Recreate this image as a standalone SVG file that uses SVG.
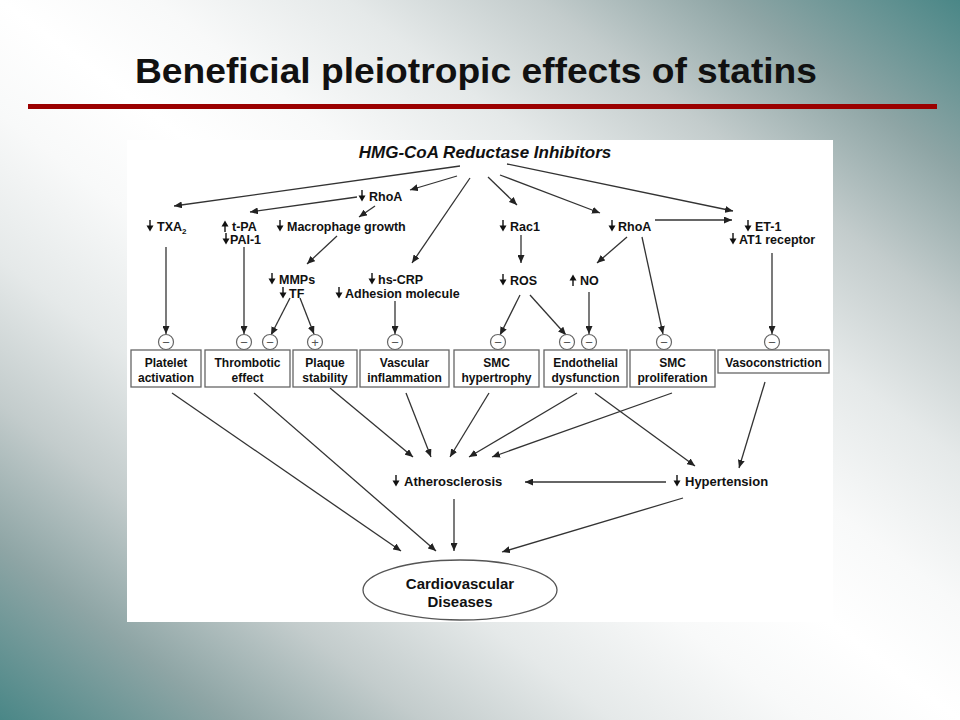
<svg xmlns="http://www.w3.org/2000/svg" xmlns:xlink="http://www.w3.org/1999/xlink" width="960" height="720" viewBox="0 0 960 720">
  <defs>
    <linearGradient id="bg" x1="0" y1="1" x2="1" y2="0">
      <stop offset="0" stop-color="#4a8787"/>
      <stop offset="0.12" stop-color="#8ea5a5"/>
      <stop offset="0.22" stop-color="#c3cccc"/>
      <stop offset="0.32" stop-color="#e5e9e9"/>
      <stop offset="0.42" stop-color="#f8f9f9"/>
      <stop offset="0.5" stop-color="#ffffff"/>
      <stop offset="0.58" stop-color="#f8f9f9"/>
      <stop offset="0.68" stop-color="#e5e9e9"/>
      <stop offset="0.78" stop-color="#c3cccc"/>
      <stop offset="0.88" stop-color="#8ea5a5"/>
      <stop offset="1" stop-color="#4a8787"/>
    </linearGradient>
    <marker id="ah" markerUnits="userSpaceOnUse" markerWidth="9" markerHeight="7" refX="8" refY="3.5" orient="auto">
      <path d="M0,0 L8,3.5 L0,7 Z" fill="#222"/>
    </marker>
    <g id="dn">
      <path d="M0,-6 V1" stroke="#111" stroke-width="1.4"/>
      <path d="M-3.5,-0.5 H3.5 L0,5.5 Z" fill="#111"/>
    </g>
    <g id="up">
      <path d="M0,6 V-1" stroke="#111" stroke-width="1.4"/>
      <path d="M-3.5,0.5 H3.5 L0,-5.5 Z" fill="#111"/>
    </g>
  </defs>
  <style>
    .t { font-family: "Liberation Sans", Arial, Helvetica, sans-serif; font-weight: bold; fill: #111; }
    .lbl { font-size: 12.5px; }
    .box { fill: #fff; stroke: #666; stroke-width: 1.3; }
    .bt { font-size: 12px; text-anchor: middle; }
    .c { stroke: #333; stroke-width: 1.3; fill: none; marker-end: url(#ah); }
    .sg { fill: #fff; stroke: #666; stroke-width: 1.2; }
    .sgt { font-family: "Liberation Sans", Arial, sans-serif; font-size: 13px; fill: #555; text-anchor: middle; }
  </style>

  <rect x="0" y="0" width="960" height="720" fill="url(#bg)"/>

  <g id="title">
    <text class="t" x="135" y="83" font-size="35" textLength="682" lengthAdjust="spacingAndGlyphs">Beneficial pleiotropic effects of statins</text>
    <rect x="28" y="104" width="909" height="5" fill="#9b0000"/>
  </g>

  <rect x="127" y="140" width="706" height="482" fill="#ffffff"/>

  <g id="connectors">
    <line class="c" x1="460" y1="166" x2="174" y2="206"/>
    <line class="c" x1="457" y1="176" x2="410" y2="190"/>
    <line class="c" x1="470" y1="178" x2="412" y2="263"/>
    <line class="c" x1="488" y1="177" x2="517" y2="205"/>
    <line class="c" x1="500" y1="175" x2="600" y2="213"/>
    <line class="c" x1="507" y1="164" x2="733" y2="211"/>
    <line class="c" x1="357" y1="197" x2="250" y2="212"/>
    <line class="c" x1="375" y1="206" x2="359" y2="217"/>
    <line class="c" x1="337" y1="236" x2="307" y2="264"/>
    <line class="c" x1="521" y1="235" x2="521" y2="263"/>
    <line class="c" x1="655" y1="220" x2="732" y2="220"/>
    <line class="c" x1="627" y1="237" x2="597" y2="263"/>
    <line class="c" x1="642" y1="237" x2="663" y2="334"/>
    <line class="c" x1="772" y1="253" x2="772" y2="334"/>
    <line class="c" x1="589" y1="292" x2="589" y2="334"/>
    <line class="c" x1="520" y1="295" x2="500" y2="335"/>
    <line class="c" x1="530" y1="295" x2="566" y2="335"/>
    <line class="c" x1="166" y1="247" x2="166" y2="334"/>
    <line class="c" x1="244" y1="247" x2="244" y2="334"/>
    <line class="c" x1="290" y1="298" x2="271" y2="335"/>
    <line class="c" x1="300" y1="298" x2="314" y2="334"/>
    <line class="c" x1="395" y1="301" x2="395" y2="334"/>
    <line class="c" x1="172" y1="393" x2="401" y2="551"/>
    <line class="c" x1="254" y1="393" x2="436" y2="551"/>
    <line class="c" x1="330" y1="388" x2="413" y2="457"/>
    <line class="c" x1="406" y1="393" x2="431" y2="457"/>
    <line class="c" x1="489" y1="393" x2="450" y2="457"/>
    <line class="c" x1="577" y1="393" x2="469" y2="457"/>
    <line class="c" x1="672" y1="393" x2="492" y2="457"/>
    <line class="c" x1="595" y1="393" x2="695" y2="466"/>
    <line class="c" x1="765" y1="382" x2="739" y2="468"/>
    <line class="c" x1="666" y1="482" x2="525" y2="482"/>
    <line class="c" x1="454" y1="499" x2="454" y2="551"/>
    <line class="c" x1="683" y1="498" x2="502" y2="552"/>
  </g>

  <g id="hmg">
    <text class="t" x="485" y="158" font-size="17" font-style="italic" text-anchor="middle">HMG-CoA Reductase Inhibitors</text>
  </g>

  <g id="rhoa-left">
    <use xlink:href="#dn" x="362" y="196"/>
    <text class="t lbl" x="369" y="200.5">RhoA</text>
  </g>
  <g id="txa2">
    <use xlink:href="#dn" x="150" y="226"/>
    <text class="t lbl" x="157" y="230.5">TXA<tspan font-size="8" dy="3">2</tspan></text>
  </g>
  <g id="tpa">
    <use xlink:href="#up" x="225" y="226"/>
    <text class="t lbl" x="232" y="230.5">t-PA</text>
    <use xlink:href="#dn" x="226" y="239"/>
    <text class="t lbl" x="230" y="243.5">PAI-1</text>
  </g>
  <g id="macrophage">
    <use xlink:href="#dn" x="280" y="226"/>
    <text class="t lbl" x="287" y="230.5">Macrophage growth</text>
  </g>
  <g id="mmps">
    <use xlink:href="#dn" x="272" y="279"/>
    <text class="t lbl" x="279" y="283.5">MMPs</text>
    <use xlink:href="#dn" x="283" y="293"/>
    <text class="t lbl" x="289" y="297.5">TF</text>
  </g>
  <g id="hscrp">
    <use xlink:href="#dn" x="372" y="279"/>
    <text class="t lbl" x="378" y="283.5">hs-CRP</text>
    <use xlink:href="#dn" x="339" y="293"/>
    <text class="t lbl" x="345" y="297.5">Adhesion molecule</text>
  </g>
  <g id="rac1">
    <use xlink:href="#dn" x="503" y="226"/>
    <text class="t lbl" x="510" y="230.5">Rac1</text>
  </g>
  <g id="ros">
    <use xlink:href="#dn" x="503" y="280"/>
    <text class="t lbl" x="510" y="284.5">ROS</text>
  </g>
  <g id="no">
    <use xlink:href="#up" x="573" y="280"/>
    <text class="t lbl" x="580" y="284.5">NO</text>
  </g>
  <g id="rhoa-right">
    <use xlink:href="#dn" x="612" y="226"/>
    <text class="t lbl" x="618" y="230.5">RhoA</text>
  </g>
  <g id="et1">
    <use xlink:href="#dn" x="748" y="226"/>
    <text class="t lbl" x="755" y="230.5">ET-1</text>
    <use xlink:href="#dn" x="733" y="239"/>
    <text class="t lbl" x="739" y="243.5">AT1 receptor</text>
  </g>

  <g id="signs">
    <circle class="sg" cx="166" cy="342" r="7.5"/><text class="sgt" x="166" y="346.5">−</text>
    <circle class="sg" cx="244" cy="342" r="7.5"/><text class="sgt" x="244" y="346.5">−</text>
    <circle class="sg" cx="270" cy="342" r="7.5"/><text class="sgt" x="270" y="346.5">−</text>
    <circle class="sg" cx="315" cy="342" r="7.5"/><text class="sgt" x="315" y="346.5">+</text>
    <circle class="sg" cx="395" cy="342" r="7.5"/><text class="sgt" x="395" y="346.5">−</text>
    <circle class="sg" cx="498" cy="342" r="7.5"/><text class="sgt" x="498" y="346.5">−</text>
    <circle class="sg" cx="567" cy="342" r="7.5"/><text class="sgt" x="567" y="346.5">−</text>
    <circle class="sg" cx="589" cy="342" r="7.5"/><text class="sgt" x="589" y="346.5">−</text>
    <circle class="sg" cx="664" cy="342" r="7.5"/><text class="sgt" x="664" y="346.5">−</text>
    <circle class="sg" cx="772" cy="342" r="7.5"/><text class="sgt" x="772" y="346.5">−</text>
  </g>

  <g id="platelet">
    <rect class="box" x="131" y="350" width="70" height="37"/>
    <text class="t bt" x="166" y="367">Platelet</text>
    <text class="t bt" x="166" y="382">activation</text>
  </g>
  <g id="thrombotic">
    <rect class="box" x="205" y="350" width="85" height="37"/>
    <text class="t bt" x="247.5" y="367">Thrombotic</text>
    <text class="t bt" x="247.5" y="382">effect</text>
  </g>
  <g id="plaque">
    <rect class="box" x="293" y="350" width="64" height="37"/>
    <text class="t bt" x="325" y="367">Plaque</text>
    <text class="t bt" x="325" y="382">stability</text>
  </g>
  <g id="vascular">
    <rect class="box" x="360" y="350" width="89" height="37"/>
    <text class="t bt" x="404.5" y="367">Vascular</text>
    <text class="t bt" x="404.5" y="382">inflammation</text>
  </g>
  <g id="smc-hyp">
    <rect class="box" x="454" y="350" width="85" height="37"/>
    <text class="t bt" x="496.5" y="367">SMC</text>
    <text class="t bt" x="496.5" y="382">hypertrophy</text>
  </g>
  <g id="endothelial">
    <rect class="box" x="544" y="350" width="83" height="37"/>
    <text class="t bt" x="585.5" y="367">Endothelial</text>
    <text class="t bt" x="585.5" y="382">dysfunction</text>
  </g>
  <g id="smc-prol">
    <rect class="box" x="630" y="350" width="85" height="37"/>
    <text class="t bt" x="672.5" y="367">SMC</text>
    <text class="t bt" x="672.5" y="382">proliferation</text>
  </g>
  <g id="vaso">
    <rect class="box" x="718" y="350" width="111" height="23"/>
    <text class="t bt" x="773.5" y="366.5">Vasoconstriction</text>
  </g>

  <g id="athero">
    <use xlink:href="#dn" x="396" y="481"/>
    <text class="t" x="404" y="486" font-size="13">Atherosclerosis</text>
  </g>
  <g id="hyper">
    <use xlink:href="#dn" x="677" y="481"/>
    <text class="t" x="685" y="486" font-size="13">Hypertension</text>
  </g>
  <g id="cvd">
    <ellipse cx="460" cy="590" rx="97" ry="30" fill="#fff" stroke="#555" stroke-width="1.3"/>
    <text class="t" x="460" y="588.5" font-size="15" text-anchor="middle">Cardiovascular</text>
    <text class="t" x="460" y="606.5" font-size="15" text-anchor="middle">Diseases</text>
  </g>
</svg>
